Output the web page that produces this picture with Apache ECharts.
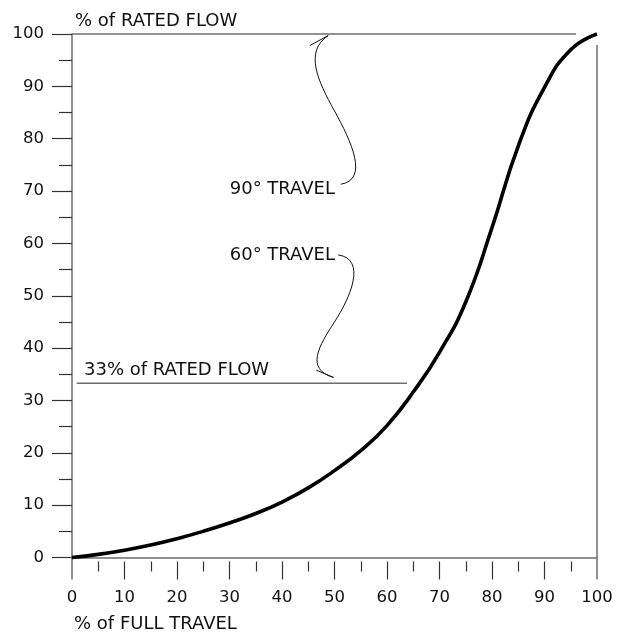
<!DOCTYPE html>
<html>
<head>
<meta charset="utf-8">
<script src="https://cdn.jsdelivr.net/npm/echarts@6/dist/echarts.min.js"></script>
<style>
html,body{margin:0;padding:0;background:#fff;}
#chart{width:621px;height:635px;}
</style>
</head>
<body>
<div id="chart"></div>
<script>
// Flow characteristic: % of full travel vs % of rated flow
const travel = [0, 5, 10, 15, 20, 25, 30, 35, 40, 45, 50, 55, 60, 65, 70, 75, 80, 85, 90, 95, 100];
const ratedFlow = [0, 0.6, 1.4, 2.4, 3.6, 5.0, 6.6, 8.4, 10.6, 13.3, 16.6, 20.4, 25.2, 31.6, 39.2, 48.8, 63.0, 78.6, 89.8, 97.0, 100];

const xTickLabels = [0, 10, 20, 30, 40, 50, 60, 70, 80, 90, 100];
const yTickLabels = [0, 10, 20, 30, 40, 50, 60, 70, 80, 90, 100];

// reference lines
const ratedFlowLine = [[0, 100], [96, 100]];
const fullTravelLine = [[100, 0], [100, 97.9]];
const flow33Line = [[0.9, 33.3], [63.8, 33.3]];

// annotation leader curves: two cubic segments each [start, cp, cp, mid, cp, cp, end] (data coordinates)
const travel90Leader = [[51.2, 71.3], [56.6, 72.2], [53.2, 79.5], [50.0, 85.3], [46.8, 91.1], [44.2, 96.6], [48.8, 99.7]];
const travel90Barb = [[45.3, 97.8], [48.8, 99.7]];
const travel60Leader = [[50.7, 57.8], [56.2, 57.0], [53.0, 49.6], [50.0, 45.0], [47.0, 40.4], [44.4, 36.0], [49.8, 34.4]];
const travel60Barb = [[46.5, 35.8], [49.8, 34.4]];

const FONT = 'DejaVu Sans';
const AXIS = '#6e6e6e';
const TXT = '#111';

const chart = echarts.init(document.getElementById('chart'), null, {renderer: 'canvas'});

function plain(data, color, width, smooth) {
  return {
    type: 'line', data: data, showSymbol: false, symbol: 'none', smooth: smooth || false,
    clip: false, silent: true, animation: false,
    lineStyle: {color: color, width: width}, z: 3
  };
}

const flowSeries = plain(travel.map((t, i) => [t, ratedFlow[i]]), '#000', 3.6, 0.5);
flowSeries.z = 5;
flowSeries.name = 'Flow';

const option = {
  animation: false,
  backgroundColor: '#fff',
  grid: {left: 72, right: 24, top: 34, bottom: 77.5, containLabel: false},
  xAxis: [
    {
      type: 'value', min: 0, max: 100, interval: 10, position: 'bottom',
      axisLine: {show: true, lineStyle: {color: AXIS, width: 1.5}},
      axisTick: {show: true, customValues: [0, 100], length: 22, lineStyle: {color: AXIS, width: 1.5}},
      axisLabel: {show: false},
      splitLine: {show: false}
    },
    {
      type: 'value', min: 0, max: 100, interval: 10, position: 'bottom', offset: 4,
      axisLine: {show: false},
      axisTick: {show: true, customValues: [10, 20, 30, 40, 50, 60, 70, 80, 90], length: 18, lineStyle: {color: '#333', width: 1.2}},
      minorTick: {show: true, splitNumber: 2, length: 10, lineStyle: {color: '#333', width: 1.2}},
      axisLabel: {show: true, customValues: xTickLabels, margin: 28, color: TXT, fontFamily: FONT, fontSize: 16.5},
      splitLine: {show: false}
    }
  ],
  yAxis: {
    type: 'value', min: 0, max: 100, interval: 10,
    name: '% of RATED FLOW', nameLocation: 'end', nameGap: 13,
    nameTextStyle: {align: 'left', verticalAlign: 'middle', padding: [0, 0, 0, 3], color: TXT, fontFamily: FONT, fontSize: 18},
    axisLine: {show: true, lineStyle: {color: AXIS, width: 1.5}},
    axisTick: {show: true, length: 20, lineStyle: {color: '#333', width: 1.2}},
    minorTick: {show: true, splitNumber: 2, length: 13, lineStyle: {color: '#333', width: 1.2}},
    axisLabel: {show: true, customValues: yTickLabels, margin: 28, color: TXT, fontFamily: FONT, fontSize: 16.5},
    splitLine: {show: false}
  },
  series: [
    plain(ratedFlowLine, AXIS, 1.5),
    plain(fullTravelLine, AXIS, 1.5),
    plain(flow33Line, AXIS, 1.5),
    plain(travel90Barb, '#111', 1),
    plain(travel60Barb, '#111', 1),
    flowSeries
  ],
  graphic: [
    {type: 'text', x: 74, y: 624.5, style: {text: '% of FULL TRAVEL', fill: TXT, font: '18px "DejaVu Sans"', align: 'left', verticalAlign: 'middle'}},
    {type: 'text', x: 335, y: 189, style: {text: '90° TRAVEL', fill: TXT, font: '18px "DejaVu Sans"', align: 'right', verticalAlign: 'middle'}},
    {type: 'text', x: 335, y: 255.5, style: {text: '60° TRAVEL', fill: TXT, font: '18px "DejaVu Sans"', align: 'right', verticalAlign: 'middle'}},
    {type: 'text', x: 84, y: 370, style: {text: '33% of RATED FLOW', fill: TXT, font: '18px "DejaVu Sans"', align: 'left', verticalAlign: 'middle'}}
  ]
};
chart.setOption(option);

// leader curves: convert data-space control points to pixels via the chart's own scales
function leaderGraphics(pts, id) {
  const p = pts.map(d => chart.convertToPixel({gridIndex: 0}, d));
  const seg = (a, b, c, d, k) => ({
    type: 'bezierCurve', id: id + k, silent: true, z: 4,
    shape: {x1: a[0], y1: a[1], cpx1: b[0], cpy1: b[1], cpx2: c[0], cpy2: c[1], x2: d[0], y2: d[1]},
    style: {stroke: '#111', lineWidth: 1, fill: null}
  });
  return [seg(p[0], p[1], p[2], p[3], 'a'), seg(p[3], p[4], p[5], p[6], 'b')];
}
chart.setOption({graphic: option.graphic.concat(leaderGraphics(travel90Leader, 'l90'), leaderGraphics(travel60Leader, 'l60'))});
</script>
</body>
</html>
